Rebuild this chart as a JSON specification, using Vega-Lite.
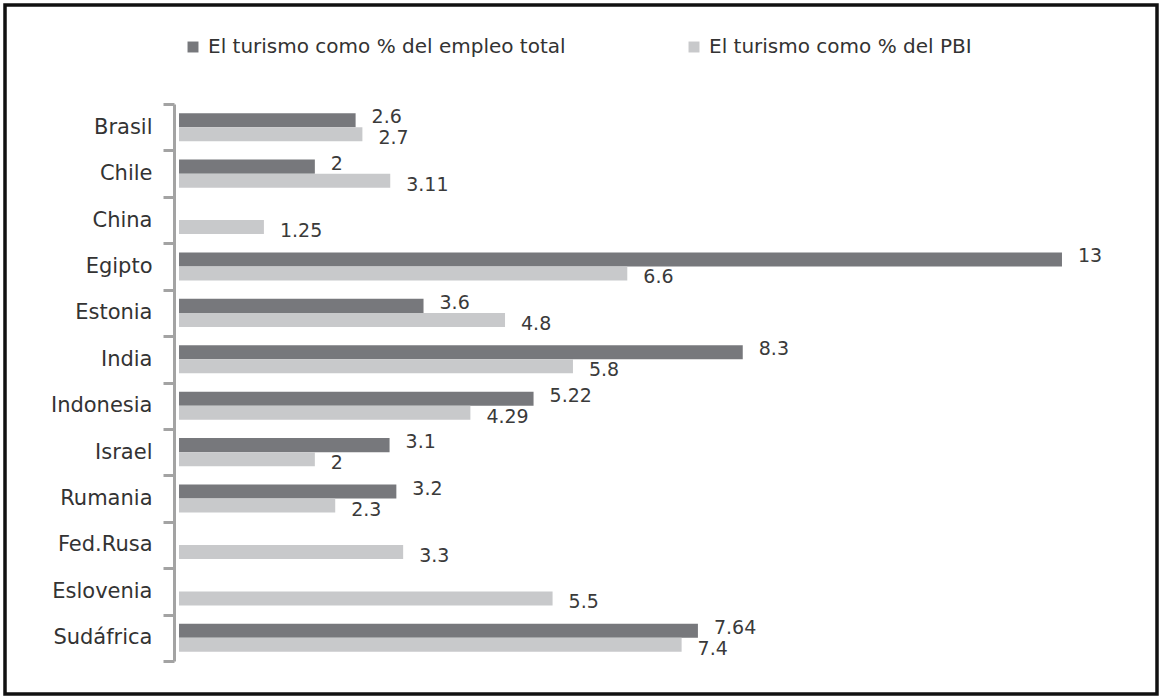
{
  "$schema": "https://vega.github.io/schema/vega-lite/v6.json",
  "width": 1152,
  "height": 689,
  "autosize": {"type": "none"},
  "padding": {"left": 5, "top": 5, "right": 2, "bottom": 2},
  "background": "white",
  "config": {
    "view": {"stroke": "#111111", "strokeWidth": 3.5},
    "font": "DejaVu Sans"
  },
  "data": {
    "values": [
      {"pais": "Brasil", "serie": "El turismo como % del empleo total", "valor": 2.6},
      {"pais": "Brasil", "serie": "El turismo como % del PBI", "valor": 2.7},
      {"pais": "Chile", "serie": "El turismo como % del empleo total", "valor": 2},
      {"pais": "Chile", "serie": "El turismo como % del PBI", "valor": 3.11},
      {"pais": "China", "serie": "El turismo como % del PBI", "valor": 1.25},
      {"pais": "Egipto", "serie": "El turismo como % del empleo total", "valor": 13},
      {"pais": "Egipto", "serie": "El turismo como % del PBI", "valor": 6.6},
      {"pais": "Estonia", "serie": "El turismo como % del empleo total", "valor": 3.6},
      {"pais": "Estonia", "serie": "El turismo como % del PBI", "valor": 4.8},
      {"pais": "India", "serie": "El turismo como % del empleo total", "valor": 8.3},
      {"pais": "India", "serie": "El turismo como % del PBI", "valor": 5.8},
      {"pais": "Indonesia", "serie": "El turismo como % del empleo total", "valor": 5.22},
      {"pais": "Indonesia", "serie": "El turismo como % del PBI", "valor": 4.29},
      {"pais": "Israel", "serie": "El turismo como % del empleo total", "valor": 3.1},
      {"pais": "Israel", "serie": "El turismo como % del PBI", "valor": 2},
      {"pais": "Rumania", "serie": "El turismo como % del empleo total", "valor": 3.2},
      {"pais": "Rumania", "serie": "El turismo como % del PBI", "valor": 2.3},
      {"pais": "Fed.Rusa", "serie": "El turismo como % del PBI", "valor": 3.3},
      {"pais": "Eslovenia", "serie": "El turismo como % del PBI", "valor": 5.5},
      {"pais": "Sudáfrica", "serie": "El turismo como % del empleo total", "valor": 7.64},
      {"pais": "Sudáfrica", "serie": "El turismo como % del PBI", "valor": 7.4}
    ]
  },
  "encoding": {
    "y": {
      "field": "pais",
      "type": "nominal",
      "sort": ["Brasil", "Chile", "China", "Egipto", "Estonia", "India", "Indonesia", "Israel", "Rumania", "Fed.Rusa", "Eslovenia", "Sudáfrica"],
      "scale": {"range": [99, 656], "paddingInner": 0, "paddingOuter": 0},
      "axis": {
        "title": null,
        "orient": "left",
        "offset": -169,
        "labelFontSize": 21,
        "labelColor": "#333333",
        "labelPadding": 11,
        "tickBand": "extent",
        "tickSize": 11,
        "tickWidth": 3,
        "tickColor": "#a3a3a3",
        "domainColor": "#a3a3a3",
        "domainWidth": 3
      }
    },
    "yOffset": {
      "field": "serie",
      "type": "nominal",
      "sort": ["El turismo como % del empleo total", "El turismo como % del PBI"],
      "scale": {"paddingInner": 0, "paddingOuter": 0.65}
    },
    "x": {
      "field": "valor",
      "type": "quantitative",
      "scale": {"domain": [-2.562, 14.399], "nice": false, "zero": false},
      "axis": null
    }
  },
  "layer": [
    {
      "mark": {"type": "bar"},
      "encoding": {
        "x2": {"datum": 0},
        "color": {
          "field": "serie",
          "type": "nominal",
          "scale": {
            "domain": ["El turismo como % del empleo total", "El turismo como % del PBI"],
            "range": ["#77787c", "#c8c9cb"]
          },
          "legend": {
            "orient": "none",
            "legendX": 178,
            "legendY": 32,
            "direction": "horizontal",
            "title": null,
            "symbolType": "square",
            "symbolSize": 120,
            "symbolStrokeWidth": 0,
            "labelFontSize": 20,
            "labelLimit": 0,
            "labelColor": "#333333",
            "labelOffset": 5,
            "columnPadding": 118
          }
        }
      }
    },
    {
      "transform": [{"filter": "datum.serie == 'El turismo como % del empleo total'"}],
      "mark": {"type": "text", "align": "left", "baseline": "middle", "dx": 16, "dy": -3, "fontSize": 19, "color": "#3a3a3a"},
      "encoding": {"text": {"field": "valor", "type": "nominal"}}
    },
    {
      "transform": [{"filter": "datum.serie == 'El turismo como % del PBI'"}],
      "mark": {"type": "text", "align": "left", "baseline": "middle", "dx": 16, "dy": 4, "fontSize": 19, "color": "#3a3a3a"},
      "encoding": {"text": {"field": "valor", "type": "nominal"}}
    }
  ]
}
